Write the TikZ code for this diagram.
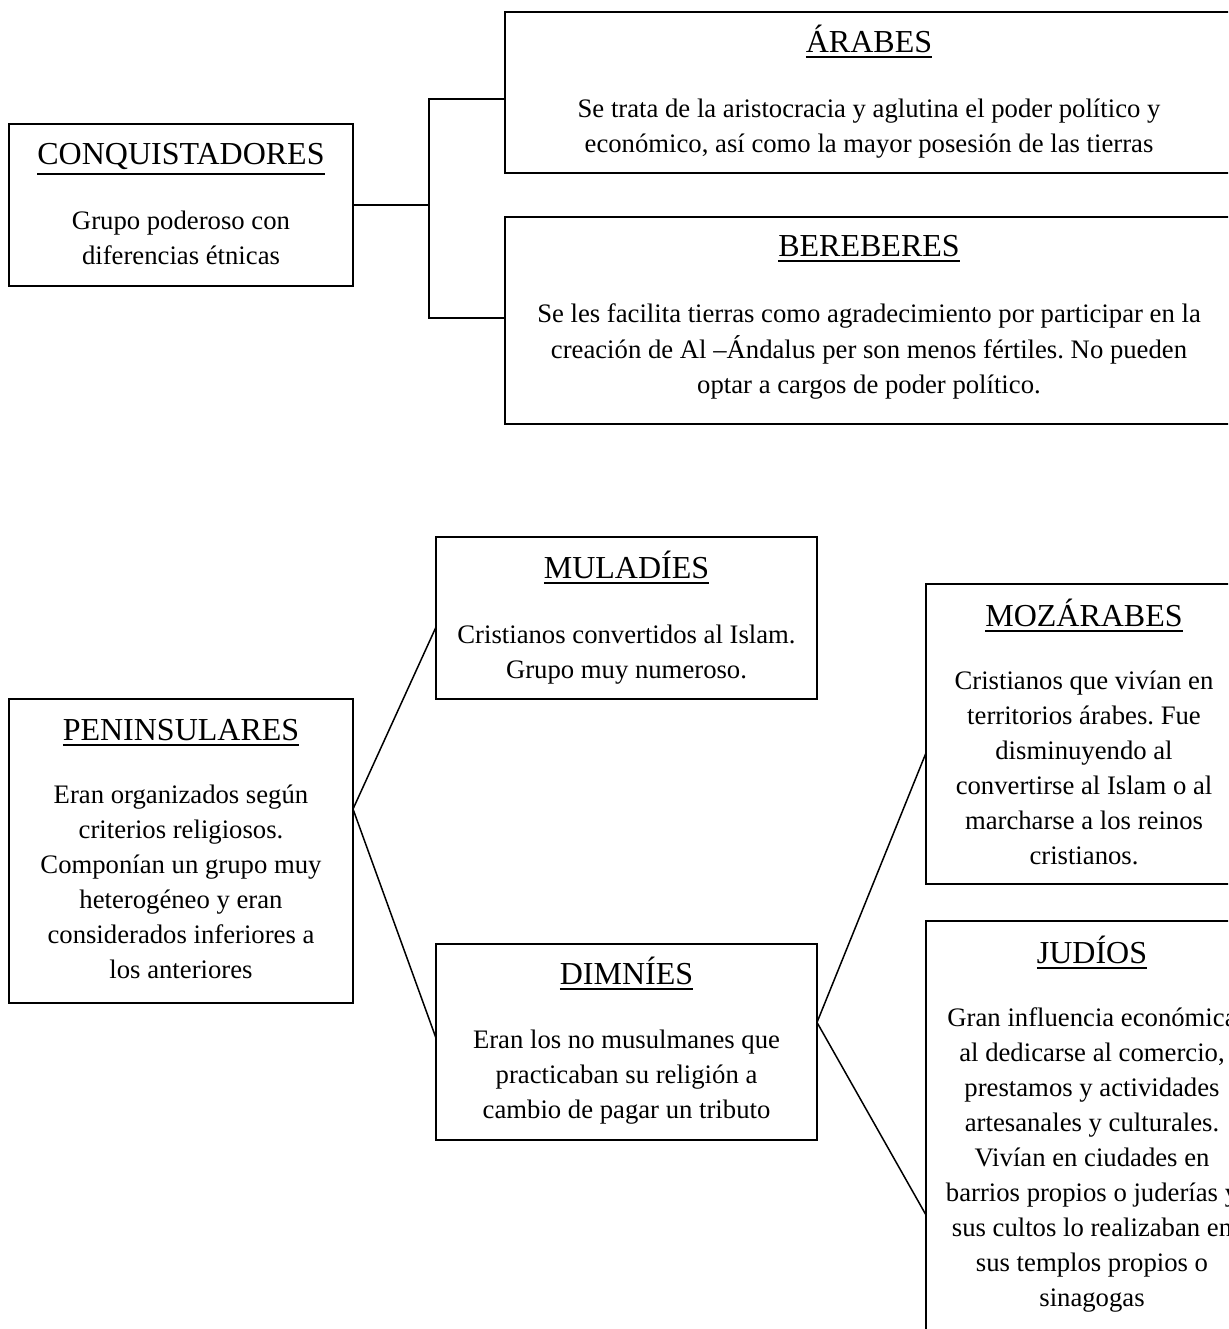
\documentclass[tikz,border=0pt]{standalone}
\usepackage{fontspec}
\setmainfont{Liberation Serif}
\usetikzlibrary{calc}
\frenchspacing
\newcommand\bodyfont{\fontsize{26.7pt}{35pt}\selectfont\frenchspacing}
\newcommand\titlefont{\fontsize{32pt}{38pt}\selectfont}
\newcommand\ulttl[1]{\vtop{\hbox{#1}\kern3.5pt\hrule height 1.8pt}}
\newcommand\textlines[4]{%
  \foreach [count=\i] \t in {#4} {%
    \node[bodytxt, name=#1\i] at (#2, {#3+35*(\i-1)}) {\t};
  }%
}
\begin{document}
\begin{tikzpicture}[x=1pt,y=-1pt,
  box/.style={draw, line width=2pt, rectangle, outer sep=0pt, inner sep=0pt},
  ttl/.style={anchor=base, inner sep=0pt, font=\titlefont},
  bodytxt/.style={anchor=base, inner sep=0pt, font=\bodyfont},
  link/.style={line width=2pt},
  diag/.style={line width=1.5pt}]
\useasboundingbox (0,0) rectangle (1228,1329);
\clip (0,0) rectangle (1228,1329);

% ---------- boxes ----------
\node[box, minimum width=344pt, minimum height=162pt] (conq) at (181,205) {};
\node[box, minimum width=728pt, minimum height=161pt] (arabes) at (869,92.5) {};
\node[box, minimum width=728pt, minimum height=207pt] (bereberes) at (869,320.5) {};
\node[box, minimum width=344pt, minimum height=304pt] (pen) at (181,851) {};
\node[box, minimum width=381pt, minimum height=162pt] (mul) at (626.5,618) {};
\node[box, minimum width=381pt, minimum height=196pt] (dim) at (626.5,1042) {};
\node[box, minimum width=316pt, minimum height=300pt] (moz) at (1084,734) {};
\node[box, minimum width=332pt, minimum height=478pt] (jud) at (1092,1160) {};

% ---------- titles ----------
\node[ttl] (tconq) at (181,164.5) {\ulttl{CONQUISTADORES}};
\node[ttl] (tarabes) at (869,52.5) {\ulttl{ÁRABES}};
\node[ttl] (tber) at (869,256.5) {\ulttl{BEREBERES}};
\node[ttl] (tpen) at (181,740) {\ulttl{PENINSULARES}};
\node[ttl] (tmul) at (626.5,578) {\ulttl{MULADÍES}};
\node[ttl] (tdim) at (626.5,984) {\ulttl{DIMNÍES}};
\node[ttl] (tmoz) at (1084,626) {\ulttl{MOZÁRABES}};
\node[ttl] (tjud) at (1092,963) {\ulttl{JUDÍOS}};

% ---------- body texts ----------
\textlines{bconq}{181}{230}{Grupo poderoso con, diferencias étnicas}
\textlines{barabes}{869}{118}{Se trata de la aristocracia y aglutina el poder político y,
  {económico, así como la mayor posesión de las tierras}}
\textlines{bber}{869}{323}{Se les facilita tierras como agradecimiento por participar en la,
  creación de Al –Ándalus per son menos fértiles. No pueden,
  optar a cargos de poder político.}
\textlines{bpen}{181}{803}{Eran organizados según, criterios religiosos.,
  Componían un grupo muy, heterogéneo y eran, considerados inferiores a,
  los anteriores}
\textlines{bmul}{626.5}{643}{Cristianos convertidos al Islam., Grupo muy numeroso.}
\textlines{bdim}{626.5}{1048}{Eran los no musulmanes que, practicaban su religión a,
  cambio de pagar un tributo}
\textlines{bmoz}{1084}{689}{Cristianos que vivían en, territorios árabes. Fue,
  disminuyendo al, convertirse al Islam o al, marcharse a los reinos, cristianos.}
\textlines{bjud}{1092}{1026}{Gran influencia económica, {al dedicarse al comercio,},
  prestamos y actividades, artesanales y culturales., Vivían en ciudades en,
  barrios propios o juderías y, sus cultos lo realizaban en,
  sus templos propios o, sinagogas}

% ---------- connectors ----------
\coordinate (fork) at ($(conq.east)+(76,0)$);
\coordinate (arIn) at ($(arabes.west)+(0,6.5)$);
\coordinate (beIn) at ($(bereberes.west)+(0,-2.5)$);
\draw[link] (conq.east) -- (fork);
\draw[link] (arIn) -| (fork) |- (beIn);

\coordinate (penOut) at ($(pen.north east)!0.362!(pen.south east)$);
\coordinate (mulIn) at ($(mul.north west)!0.556!(mul.south west)$);
\coordinate (dimIn) at ($(dim.north west)!0.48!(dim.south west)$);
\coordinate (dimOut) at ($(dim.north east)!0.40!(dim.south east)$);
\coordinate (mozIn) at ($(moz.north west)!0.563!(moz.south west)$);
\coordinate (judIn) at ($(jud.north west)+(0,294)$);
\draw[diag] (mulIn) -- (penOut) -- (dimIn);
\draw[diag] (mozIn) -- (dimOut) -- (judIn);
\end{tikzpicture}
\end{document}
